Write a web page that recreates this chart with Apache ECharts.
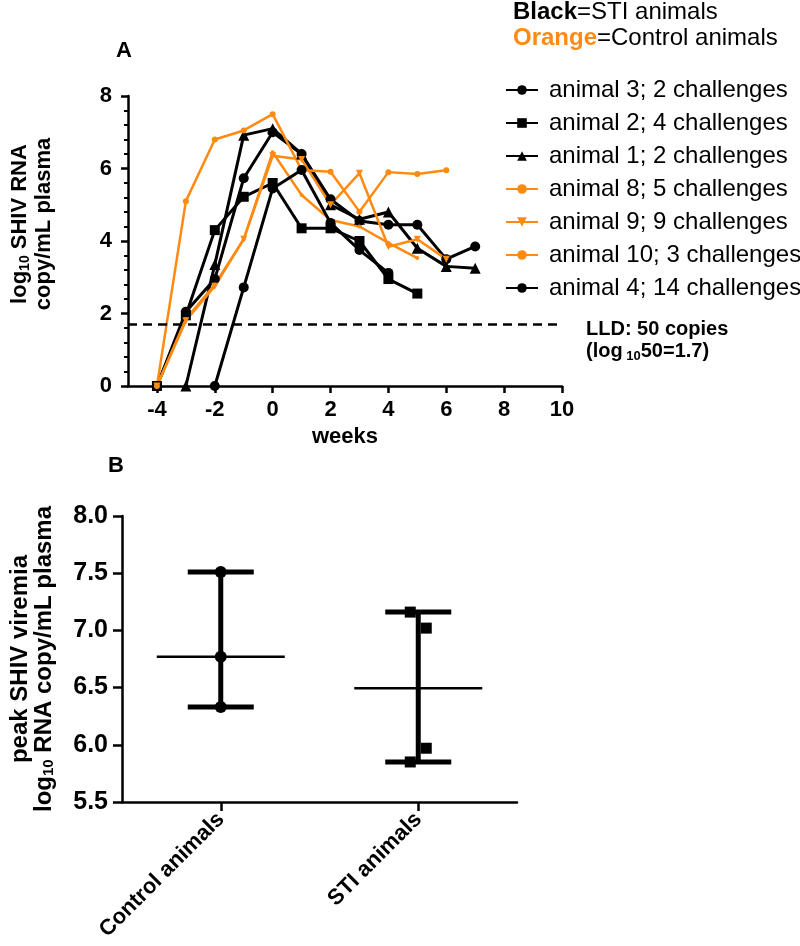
<!DOCTYPE html>
<html>
<head>
<meta charset="utf-8">
<script src="https://cdn.jsdelivr.net/npm/echarts@6/dist/echarts.min.js"></script>
<style>
  html, body { margin: 0; padding: 0; background: #fff; }
  #echarts { width: 800px; height: 946px; }
</style>
</head>
<body>
<div id="echarts"></div>
<script>
// Panel A: viral load per week (null = no sample)
const weeks = [-4, -3, -2, -1, 0, 1, 2, 3, 4, 5, 6, 7];
const animal3 = [0, 2.05, 2.95, 5.73, 7.0, 6.4, 5.15, 4.55, 4.45, 4.45, 3.5, 3.85];
const animal2 = [0, 1.95, 4.3, 5.22, 5.6, 4.35, 4.35, 4.0, 2.95, 2.55, null, null];
const animal1 = [null, 0, 3.35, 6.92, 7.1, 6.4, 5.0, 4.6, 4.8, 3.8, 3.3, 3.25];
const animal8 = [0, 1.85, 2.8, 4.05, 6.45, 5.27, 4.58, 4.4, 3.95, 3.53, null, null];
const animal9 = [0, 1.8, 2.75, 4.05, 6.35, 6.25, 5.0, 5.87, 3.84, 4.05, 3.5, null];
const animal10 = [0, 5.1, 6.8, 7.05, 7.5, 5.96, 5.91, 4.81, 5.9, 5.85, 5.95, null];
const animal4 = [null, null, 0, 2.72, 5.45, 5.96, 4.5, 3.75, 3.12, null, null, null];
const weekTicks = [-4, -2, 0, 2, 4, 6, 8, 10];
const lld = 1.7;

// Panel B: peak viremia per group
const groups = ['Control animals', 'STI animals'];
const controlPeaks = [7.51, 6.77, 6.33];
const stiPeaks = [7.16, 7.02, 5.97, 5.85];

const BLACK = '#000';
const ORANGE = '#ff8a12';
const FONT = 'Liberation Sans, Arial, sans-serif';

const chart = echarts.init(document.getElementById('echarts'));

function pairs(values) {
    return weeks.map((w, i) => [w, values[i]]).filter(p => p[1] !== null);
}

function lineSeries(name, values, color, symbol, size, width) {
    return {
        name: name,
        type: 'line',
        xAxisIndex: 0,
        yAxisIndex: 0,
        data: pairs(values),
        symbol: symbol,
        symbolSize: size,
        showSymbol: true,
        itemStyle: { color: color, opacity: 1 },
        lineStyle: { color: color, width: width },
        emphasis: { disabled: true },
        z: 3
    };
}

function median(arr) {
    const s = arr.slice().sort((a, b) => a - b);
    const m = Math.floor(s.length / 2);
    return s.length % 2 ? s[m] : (s[m - 1] + s[m]) / 2;
}

const summary = [controlPeaks, stiPeaks].map((arr, i) =>
    [i, median(arr), Math.min(...arr), Math.max(...arr)]);

const stiJitter = [-8, 8, 8, -8];

const axisLine = { lineStyle: { color: BLACK, width: 2.5 } };
const labelStyle = { color: BLACK, fontFamily: FONT, fontWeight: 'bold', fontSize: 22 };

const series = [
    lineSeries('animal 3; 2 challenges', animal3, BLACK, 'circle', 10, 3),
    lineSeries('animal 2; 4 challenges', animal2, BLACK, 'rect', 10, 3),
    lineSeries('animal 1; 2 challenges', animal1, BLACK, 'triangle', 11, 3),
    lineSeries('animal 8; 5 challenges', animal8, ORANGE, 'circle', 4, 2.5),
    lineSeries('animal 9; 9 challenges', animal9, ORANGE, 'path://M0,0 L10,0 L5,9 Z', 7, 2.5),
    lineSeries('animal 10; 3 challenges', animal10, ORANGE, 'circle', 6, 2.5),
    lineSeries('animal 4; 14 challenges', animal4, BLACK, 'circle', 10, 3)
];

series[0].markLine = {
    silent: true,
    symbol: 'none',
    label: { show: false },
    lineStyle: { color: BLACK, width: 2.5, type: [9, 6] },
    data: [{ yAxis: lld }]
};

series.push({
    name: 'range',
    type: 'custom',
    xAxisIndex: 1,
    yAxisIndex: 1,
    data: summary,
    renderItem: function (params, api) {
        const c = api.coord([api.value(0), api.value(1)]);
        const lo = api.coord([api.value(0), api.value(2)]);
        const hi = api.coord([api.value(0), api.value(3)]);
        const thick = { stroke: BLACK, lineWidth: 5 };
        return {
            type: 'group',
            children: [
                { type: 'line', shape: { x1: c[0] - 64, y1: c[1], x2: c[0] + 64, y2: c[1] }, style: { stroke: BLACK, lineWidth: 2.5 } },
                { type: 'line', shape: { x1: c[0], y1: lo[1], x2: c[0], y2: hi[1] }, style: thick },
                { type: 'line', shape: { x1: c[0] - 33, y1: lo[1], x2: c[0] + 33, y2: lo[1] }, style: thick },
                { type: 'line', shape: { x1: c[0] - 33, y1: hi[1], x2: c[0] + 33, y2: hi[1] }, style: thick }
            ]
        };
    },
    z: 2
});

series.push({
    name: 'Control peaks',
    type: 'scatter',
    xAxisIndex: 1,
    yAxisIndex: 1,
    data: controlPeaks.map(v => [0, v]),
    symbol: 'circle',
    symbolSize: 12,
    itemStyle: { color: BLACK, opacity: 1 },
    z: 4
});

series.push({
    name: 'STI peaks',
    type: 'scatter',
    xAxisIndex: 1,
    yAxisIndex: 1,
    data: stiPeaks.map((v, i) => ({ value: [1, v], symbolOffset: [stiJitter[i], 0] })),
    symbol: 'rect',
    symbolSize: 11,
    itemStyle: { color: BLACK, opacity: 1 },
    z: 4
});

const option = {
    animation: false,
    backgroundColor: '#fff',
    textStyle: { fontFamily: FONT },
    grid: [
        { left: 127, top: 96, width: 435, height: 290 },
        { left: 114, top: 516, width: 403, height: 286 }
    ],
    legend: {
        data: series.slice(0, 7).map(s => s.name),
        orient: 'vertical',
        left: 500,
        top: 73,
        itemWidth: 32,
        itemHeight: 12,
        itemGap: 9,
        selectedMode: false,
        textStyle: { color: BLACK, fontFamily: FONT, fontSize: 24, padding: [0, 0, 0, 6] }
    },
    xAxis: [
        {
            type: 'value',
            gridIndex: 0,
            min: -5,
            max: 10,
            name: 'weeks',
            nameLocation: 'middle',
            nameGap: 40,
            nameTextStyle: { color: BLACK, fontFamily: FONT, fontWeight: 'bold', fontSize: 22 },
            axisLine: axisLine,
            axisTick: { show: true, customValues: weekTicks, length: 7, lineStyle: { color: BLACK, width: 2.5 } },
            axisLabel: Object.assign({ customValues: weekTicks, margin: 13 }, labelStyle),
            splitLine: { show: false }
        },
        {
            type: 'category',
            gridIndex: 1,
            data: groups,
            boundaryGap: true,
            axisLine: axisLine,
            axisTick: { show: true, alignWithLabel: true, length: 9, lineStyle: { color: BLACK, width: 2.5 } },
            axisLabel: Object.assign({}, labelStyle, { fontSize: 22, rotate: 45, margin: 14, interval: 0 }),
            splitLine: { show: false }
        }
    ],
    yAxis: [
        {
            type: 'value',
            gridIndex: 0,
            min: 0,
            max: 8,
            interval: 2,
            name: '{t|log}{s|10}{t| SHIV RNA}\n{t|copy/mL plasma}',
            nameLocation: 'middle',
            nameRotate: 90,
            nameGap: 72,
            nameTextStyle: {
                padding: [0, 0, 0, 34],
                rich: {
                    t: { color: BLACK, fontFamily: FONT, fontWeight: 'bold', fontSize: 22, lineHeight: 24 },
                    s: { color: BLACK, fontFamily: FONT, fontWeight: 'bold', fontSize: 14, lineHeight: 24, padding: [10, 0, 0, 0] }
                }
            },
            axisLine: { show: true, onZero: false, lineStyle: { color: BLACK, width: 2.5 } },
            axisTick: { show: true, length: 7, lineStyle: { color: BLACK, width: 2.5 } },
            minorTick: { show: true, splitNumber: 5, length: 4, lineStyle: { color: BLACK, width: 2 } },
            axisLabel: Object.assign({ margin: 16 }, labelStyle),
            splitLine: { show: false },
            minorSplitLine: { show: false }
        },
        {
            type: 'value',
            gridIndex: 1,
            min: 5.5,
            max: 8,
            interval: 0.5,
            name: '{t|peak SHIV viremia}\n{t|log}{s|10}{t| RNA copy/mL plasma}',
            nameLocation: 'middle',
            nameRotate: 90,
            nameGap: 66,
            nameTextStyle: {
                rich: {
                    t: { color: BLACK, fontFamily: FONT, fontWeight: 'bold', fontSize: 24, lineHeight: 24 },
                    s: { color: BLACK, fontFamily: FONT, fontWeight: 'bold', fontSize: 15, lineHeight: 24, padding: [10, 0, 0, 0] }
                }
            },
            axisLine: { show: true, onZero: false, lineStyle: { color: BLACK, width: 2.5 } },
            axisTick: { show: true, length: 9, lineStyle: { color: BLACK, width: 2.5 } },
            axisLabel: Object.assign({ margin: 14, formatter: v => v.toFixed(1) }, labelStyle, { fontSize: 25 }),
            splitLine: { show: false }
        }
    ],
    graphic: [
        {
            type: 'text', left: 513, top: 0,
            style: {
                text: '{b|Black}{r|=STI animals}',
                rich: {
                    b: { fontFamily: FONT, fontWeight: 'bold', fontSize: 24, fill: BLACK },
                    r: { fontFamily: FONT, fontSize: 24, fill: BLACK }
                }
            }
        },
        {
            type: 'text', left: 513, top: 26,
            style: {
                text: '{b|Orange}{r|=Control animals}',
                rich: {
                    b: { fontFamily: FONT, fontWeight: 'bold', fontSize: 24, fill: ORANGE },
                    r: { fontFamily: FONT, fontSize: 24, fill: BLACK }
                }
            }
        },
        {
            type: 'text', left: 116, top: 40,
            style: { text: 'A', fontFamily: FONT, fontWeight: 'bold', fontSize: 22, fill: BLACK }
        },
        {
            type: 'text', left: 108, top: 455,
            style: { text: 'B', fontFamily: FONT, fontWeight: 'bold', fontSize: 22, fill: BLACK }
        },
        {
            type: 'text', left: 586, top: 319,
            style: { text: 'LLD: 50 copies', fontFamily: FONT, fontWeight: 'bold', fontSize: 20, fill: BLACK }
        },
        {
            type: 'text', left: 586, top: 341,
            style: {
                text: '{t|(log}{s| 10}{t|50=1.7)}',
                rich: {
                    t: { fontFamily: FONT, fontWeight: 'bold', fontSize: 20, fill: BLACK },
                    s: { fontFamily: FONT, fontWeight: 'bold', fontSize: 13, fill: BLACK, padding: [10, 0, 0, 0] }
                }
            }
        }
    ],
    series: series
};

chart.setOption(option);
</script>
</body>
</html>
